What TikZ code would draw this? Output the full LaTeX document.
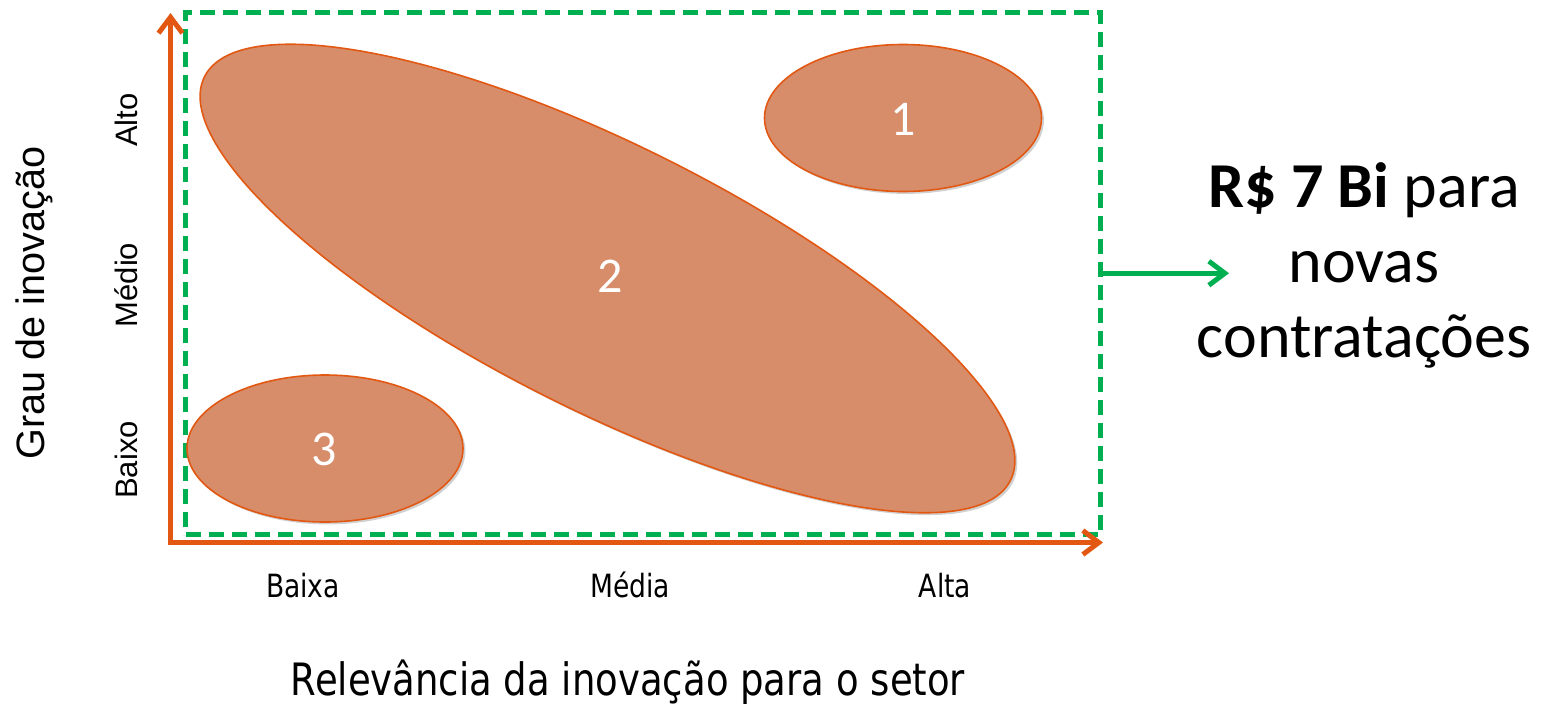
\documentclass[tikz,border=0pt]{standalone}
\usepackage{fontspec}
\setmainfont{Liberation Sans}
\newfontfamily\calibri{Carlito}
\newfontfamily\tahoma[FakeStretch=0.83]{DejaVu Sans}
\usetikzlibrary{arrows.meta,shapes.geometric,shadows}
\definecolor{axisorange}{RGB}{226,88,18}
\definecolor{blobfill}{RGB}{215,141,106}
\definecolor{boxgreen}{RGB}{0,176,80}
\tikzset{
    blob/.style={ellipse, draw=axisorange, line width=0.8pt, fill=blobfill, inner sep=0pt,
        drop shadow={shadow xshift=1.2pt, shadow yshift=-1.2pt, opacity=0.18, fill=black}},
    blobnum/.style={anchor=base, text=white, font=\calibri\fontsize{25}{29}\selectfont},
    chevron/.tip={Straight Barb[length=8pt,width=12pt]},
    axisline/.style={draw=axisorange, line width=2.5pt},
    greenbox/.style={draw=boxgreen, line width=2.5pt, dash pattern=on 7.5pt off 4pt, inner sep=0pt},
    greenarrow/.style={draw=boxgreen, line width=2.5pt, -chevron},
    ylab/.style={rotate=90, anchor=base, inner sep=0pt, font=\fontsize{15.5}{18}\selectfont},
    xlab/.style={anchor=base, inner sep=0pt, font=\tahoma\fontsize{16}{19}\selectfont}
}
\begin{document}
\begin{tikzpicture}[x=0.5pt, y=-0.5pt]
    \useasboundingbox (0,0) rectangle (1543,703);
    % frame and axes
    \node[greenbox, minimum width=457.5pt, minimum height=261.25pt] (frame) at (643,273.25) {};
    \coordinate (o)    at (170.5,542.5);
    \coordinate (ytop) at (170.5,13);
    \coordinate (xend) at (1103,542.5);
    \draw[axisline, chevron-chevron] (ytop) -- (o) -- (xend);
    % groups
    \node[blob, minimum width=450.7pt, minimum height=133pt, rotate=-26.6] (e2) at (607.5,278.5) {};
    \node[blob, minimum width=138.5pt, minimum height=73.5pt] (e1) at (903,118) {};
    \node[blob, minimum width=138pt, minimum height=73.5pt] (e3) at (325,448.5) {};
    \node[blobnum] (n1) at (903,135) {1};
    \node[blobnum] (n2) at (610,292) {2};
    \node[blobnum] (n3) at (324,465) {3};
    % axis labels
    \node[ylab] (yhi)  at (137,120) {Alto};
    \node[ylab] (ymid) at (137,285) {Médio};
    \node[ylab] (ylo)  at (137,460) {Baixo};
    \node[ylab, font=\fontsize{19.8}{24}\selectfont] (ytitle) at (45,303) {Grau de inovação};
    \node[xlab] (xlo)  at (303,597) {Baixa};
    \node[xlab] (xmid) at (630,597) {Média};
    \node[xlab] (xhi)  at (945,597) {Alta};
    \node[xlab, font=\tahoma\fontsize{22.3}{26}\selectfont] (xtitle) at (628,695) {Relevância da inovação para o setor};
    % budget
    \node[align=center, font=\calibri\fontsize{32}{37.5}\selectfont] (budget) at (1364,265)
        {\textbf{R\$ 7 Bi} para\\novas\\contratações};
    \coordinate (gtip) at (1229,273.25);
    \draw[greenarrow] (frame.east) -- (gtip);
\end{tikzpicture}
\end{document}
